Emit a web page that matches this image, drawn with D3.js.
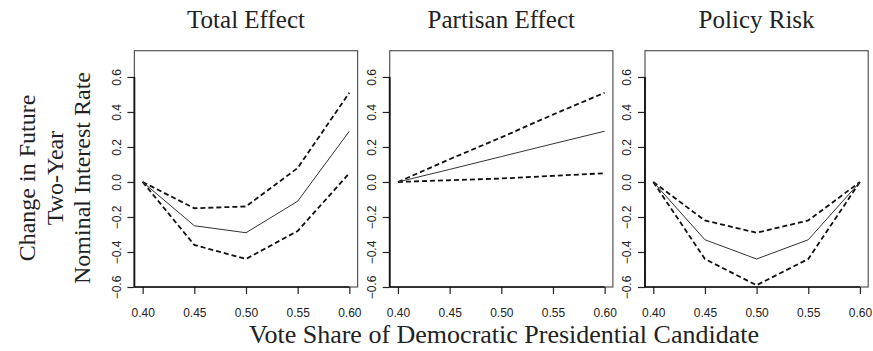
<!DOCTYPE html>
<html>
<head>
<meta charset="utf-8">
<script src="https://cdn.jsdelivr.net/npm/d3@7"></script>
<style>
  html, body { margin: 0; padding: 0; background: #fff; }
  svg { display: block; }
</style>
</head>
<body>
<svg id="chart" width="873" height="351"></svg>
<script>
// Vote share grid shared by all three panels
const voteShare = [0.40, 0.45, 0.50, 0.55, 0.60];

const panelTitles = ["Total Effect", "Partisan Effect", "Policy Risk"];

// Total effect: estimate with upper / lower bounds
const totalEstimate = [0, -0.25, -0.29, -0.11, 0.29];
const totalUpper    = [0, -0.15, -0.14, 0.08, 0.51];
const totalLower    = [0, -0.36, -0.44, -0.28, 0.05];

// Partisan effect
const partisanEstimate = [0, 0.072, 0.145, 0.218, 0.29];
const partisanUpper    = [0, 0.13, 0.255, 0.385, 0.51];
const partisanLower    = [0, 0.01, 0.02, 0.035, 0.05];

// Policy risk
const riskEstimate = [0, -0.33, -0.44, -0.33, 0];
const riskUpper    = [0, -0.22, -0.29, -0.22, 0];
const riskLower    = [0, -0.44, -0.59, -0.44, 0];

const xTicks = [0.40, 0.45, 0.50, 0.55, 0.60];
const yTicks = [-0.6, -0.4, -0.2, 0.0, 0.2, 0.4, 0.6];

const panels = [
  { title: panelTitles[0], est: totalEstimate,    up: totalUpper,    lo: totalLower },
  { title: panelTitles[1], est: partisanEstimate, up: partisanUpper, lo: partisanLower },
  { title: panelTitles[2], est: riskEstimate,     up: riskUpper,     lo: riskLower }
];

const svg = d3.select("#chart");

const panelLefts = [134.4, 389.7, 645.0];
const panelWidth = 223.2;
const plotTop = 50.7, plotBottom = 287;

const serif = "'Liberation Serif', 'Times New Roman', serif";
const sans = "'Liberation Sans', Arial, Helvetica, sans-serif";

const fmtX = d3.format(".2f");
const fmtY = d3.format(".1f");

panels.forEach((p, i) => {
  const left = panelLefts[i];
  const right = left + panelWidth;

  const x = d3.scaleLinear().domain([0.392, 0.608]).range([left, right]);
  const y = d3.scaleLinear().domain([-0.6, 0.75]).range([plotBottom, plotTop]);

  const g = svg.append("g");

  // plot frame
  g.append("rect")
    .attr("x", left).attr("y", plotTop)
    .attr("width", panelWidth).attr("height", plotBottom - plotTop)
    .attr("fill", "none").attr("stroke", "#555").attr("stroke-width", 1.2);

  // bottom axis
  const xAxis = g.append("g")
    .attr("transform", `translate(0,${plotBottom})`)
    .call(d3.axisBottom(x).tickValues(xTicks).tickFormat(fmtX).tickSize(7).tickPadding(14));
  xAxis.select(".domain").remove();
  xAxis.selectAll(".tick line").attr("stroke", "#222").attr("stroke-width", 1.2);
  xAxis.selectAll(".tick text")
    .attr("font-family", sans).attr("font-size", 12).attr("fill", "#222");
  g.append("line")
    .attr("x1", left).attr("x2", x(xTicks[xTicks.length - 1]))
    .attr("y1", plotBottom).attr("y2", plotBottom)
    .attr("stroke", "#111").attr("stroke-width", 1.6);

  // left axis with rotated labels
  const yAxis = g.append("g")
    .attr("transform", `translate(${left},0)`)
    .call(d3.axisLeft(y).tickValues(yTicks).tickFormat(fmtY).tickSize(7));
  yAxis.select(".domain").remove();
  yAxis.selectAll(".tick line").attr("stroke", "#222").attr("stroke-width", 1.2);
  yAxis.selectAll(".tick text")
    .attr("x", 0).attr("y", 0).attr("dy", "0.35em")
    .attr("transform", "translate(-18,0) rotate(-90)")
    .attr("text-anchor", "middle")
    .attr("font-family", sans).attr("font-size", 12).attr("fill", "#222");
  g.append("line")
    .attr("x1", left).attr("x2", left)
    .attr("y1", y(yTicks[0])).attr("y2", y(yTicks[yTicks.length - 1]))
    .attr("stroke", "#111").attr("stroke-width", 1.8);

  // panel title
  g.append("text")
    .attr("x", (left + right) / 2).attr("y", 28)
    .attr("text-anchor", "middle")
    .attr("font-family", serif).attr("font-size", 25).attr("fill", "#222")
    .text(p.title);

  const line = d3.line()
    .x((d, k) => x(voteShare[k]))
    .y(d => y(d));

  g.append("path").datum(p.up)
    .attr("d", line).attr("fill", "none")
    .attr("stroke", "#111").attr("stroke-width", 1.8).attr("stroke-dasharray", "5,3");
  g.append("path").datum(p.lo)
    .attr("d", line).attr("fill", "none")
    .attr("stroke", "#111").attr("stroke-width", 1.8).attr("stroke-dasharray", "5,3");
  g.append("path").datum(p.est)
    .attr("d", line).attr("fill", "none")
    .attr("stroke", "#333").attr("stroke-width", 1);
});

// shared x-axis title
svg.append("text")
  .attr("x", 504).attr("y", 343)
  .attr("text-anchor", "middle")
  .attr("font-family", serif).attr("font-size", 26).attr("fill", "#222")
  .text("Vote Share of Democratic Presidential Candidate");

// shared y-axis title, three stacked lines
const yTitleLines = ["Change in Future", "Two-Year", "Nominal Interest Rate"];
const yTitleBaselines = [34.5, 62.5, 90];
yTitleLines.forEach((t, k) => {
  svg.append("text")
    .attr("transform", `translate(${yTitleBaselines[k]},178) rotate(-90)`)
    .attr("text-anchor", "middle")
    .attr("font-family", serif).attr("font-size", 24).attr("fill", "#222")
    .text(t);
});
</script>
</body>
</html>
